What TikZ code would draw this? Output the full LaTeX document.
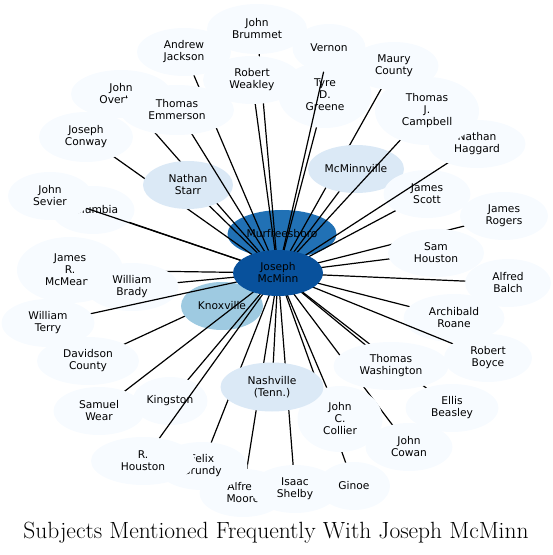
\documentclass[tikz,border=0pt]{standalone}
\usepackage{fontspec}
\usetikzlibrary{shapes.geometric}
\newfontfamily\labelfont{DejaVu Sans}
\definecolor{SubjPale}{HTML}{F7FBFF}
\definecolor{SubjLight}{HTML}{DBE9F6}
\definecolor{SubjMid}{HTML}{9ECAE1}
\definecolor{SubjDark}{HTML}{2171B5}
\definecolor{SubjDeep}{HTML}{08519C}

\tikzset{
  subject/.style={ellipse, inner sep=0pt, align=center, text=black,
    font=\labelfont\fontsize{8}{9}\selectfont},
  link/.style={black, line width=0.9pt},
}

\begin{document}
\begin{tikzpicture}[x=0.75pt, y=-0.75pt]
\useasboundingbox (0,0) rectangle (552,555);

% Centre of the star
\coordinate (jm) at (278,273);

% Each subject: its link first, then the node over it
\foreach \n/\px/\py/\w/\h/\col/\txt in {
  murf/282/234/109/48/SubjDark/Murfreesboro,
  tyre/325/95/93/66/SubjPale/{Tyre\\D.\\Greene},
  vernon/329/48/73/48/SubjPale/Vernon,
  brummet/257/29/100/50/SubjPale/{John\\Brummet},
  weakley/252/80/98/48/SubjPale/{Robert\\Weakley},
  jackson/184/52/94/48/SubjPale/{Andrew\\Jackson},
  overton/121/94/100/48/SubjPale/{John\\Overton},
  conway/86/137/94/50/SubjPale/{Joseph\\Conway},
  starr/188/185/90/48/SubjLight/{Nathan\\Starr},
  emmerson/177/110/114/50/SubjPale/{Thomas\\Emmerson},
  columbia/93/210/83/48/SubjPale/Columbia,
  sevier/50/196/84/48/SubjPale/{John\\Sevier},
  maury/394/66/89/48/SubjPale/{Maury\\County},
  mcminnville/356/169/96/48/SubjLight/McMinnville,
  scott/427/194/87/48/SubjPale/{James\\Scott},
  haggard/477/144/97/48/SubjPale/{Nathan\\Haggard},
  campbell/427/111/104/68/SubjPale/{Thomas\\J.\\Campbell},
  rogers/504/216/88/48/SubjPale/{James\\Rogers},
  samhouston/436/253/96/48/SubjPale/{Sam\\Houston},
  balch/508/283/86/48/SubjPale/{Alfred\\Balch},
  roane/454/318/101/48/SubjPale/{Archibald\\Roane},
  boyce/488/358/88/48/SubjPale/{Robert\\Boyce},
  beasley/452/408/93/48/SubjPale/{Ellis\\Beasley},
  cowan/409/447/87/48/SubjPale/{John\\Cowan},
  washington/391/366/115/48/SubjPale/{Thomas\\Washington},
  ginoe/354/486/72/48/SubjPale/Ginoe,
  collier/340/419/85/66/SubjPale/{John\\C.\\Collier},
  moore/243/493/87/48/SubjPale/{Alfred\\Moore},
  shelby/295/489/88/48/SubjPale/{Isaac\\Shelby},
  grundy/202/466/91/48/SubjPale/{Felix\\Grundy},
  nashville/272/387/103/49/SubjLight/{Nashville\\(Tenn.)},
  davidson/88/361/102/48/SubjPale/{Davidson\\County},
  knoxville/222/306/82/48/SubjMid/Knoxville,
  kingston/170/401/75/48/SubjPale/Kingston,
  wear/99/411/91/48/SubjPale/{Samuel\\Wear},
  rhouston/143/461/104/48/SubjPale/{R.\\Houston},
  mcmeans/70/270/106/66/SubjPale/{James\\R.\\McMeans},
  brady/132/287/93/48/SubjPale/{William\\Brady},
  terry/48/323/93/48/SubjPale/{William\\Terry}}
{
  \coordinate (\n) at (\px,\py);
  \draw[link] (jm) -- (\n);
  \node[subject, fill=\col, minimum width=\w*0.75pt, minimum height=\h*0.75pt]
    (\n) at (\px,\py) {\txt};
}

% Joseph McMinn sits on top of every link
\node[subject, fill=SubjDeep, minimum width=90*0.75pt, minimum height=46*0.75pt]
  (jm) at (jm) {Joseph\\McMinn};

% Title
\node (title) at (276,533) {\fontsize{17.6}{21}\selectfont Subjects Mentioned Frequently With Joseph McMinn};
\end{tikzpicture}
\end{document}
